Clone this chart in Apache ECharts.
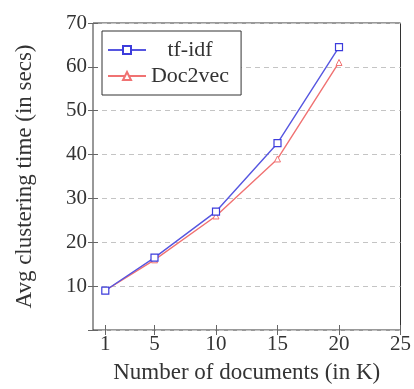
<!DOCTYPE html>
<html>
<head>
<meta charset="utf-8">
<script src="https://cdn.jsdelivr.net/npm/echarts@6/dist/echarts.min.js"></script>
<style>
  html, body { margin: 0; padding: 0; background: #fff; }
  #chart { width: 414px; height: 389px; }
</style>
</head>
<body>
<div id="chart"></div>
<script>
// number of documents (in K)
var docCounts = [1, 5, 10, 15, 20]
var xTicks = [1, 5, 10, 15, 20, 25]
// avg clustering time (secs)
var tfidfTimes = [9, 16.5, 27, 42.6, 64.5]
var doc2vecTimes = [9, 16, 26, 39, 61]

var font = 'Liberation Serif'

function pairs(xs, ys) {
  return xs.map(function (x, i) {
    return [x, ys[i]]
  })
}

var myChart = echarts.init(document.getElementById('chart'))
myChart.setOption({
  animation: false,
  textStyle: { fontFamily: font },
  grid: {
    left: 93,
    top: 23,
    width: 309,
    height: 310,
    show: true,
    borderColor: '#333',
    borderWidth: 1,
  },
  legend: {
    orient: 'vertical',
    left: 102,
    top: 31,
    itemWidth: 38,
    itemHeight: 10,
    itemGap: 4,
    padding: [8, 12, 8, 5],
    borderColor: '#333',
    borderWidth: 1,
    backgroundColor: '#fff',
    formatter: function (name) {
      return '{t|' + name + '}'
    },
    textStyle: {
      fontFamily: font,
      fontSize: 22,
      color: '#333',
      rich: {
        t: { width: 78, align: 'center', fontFamily: font, fontSize: 22, color: '#333' },
      },
    },
    data: ['tf-idf', 'Doc2vec'],
  },
  xAxis: [
    {
      type: 'value',
      min: 0,
      max: 25,
      name: 'Number of documents (in K)',
      nameLocation: 'middle',
      nameGap: 31,
      nameTextStyle: { fontFamily: font, fontSize: 23, color: '#333' },
      axisLine: { show: false },
      axisTick: { inside: true, length: 5, lineStyle: { color: '#666' }, customValues: xTicks },
      axisLabel: { customValues: xTicks, fontFamily: font, fontSize: 21, color: '#333', margin: 4 },
      splitLine: { show: false },
    },
    {
      type: 'value',
      position: 'top',
      min: 0,
      max: 25,
      axisLine: { show: false },
      axisTick: { inside: true, length: 5, lineStyle: { color: '#666' }, customValues: xTicks },
      axisLabel: { show: false },
      splitLine: { show: false },
    },
  ],
  yAxis: [
    {
      type: 'value',
      min: 0,
      max: 70,
      interval: 10,
      name: 'Avg clustering time (in secs)',
      nameLocation: 'middle',
      nameGap: 57,
      nameTextStyle: { fontFamily: font, fontSize: 23, color: '#333' },
      axisLine: { show: false },
      axisTick: { inside: true, length: 5, lineStyle: { color: '#666' } },
      axisLabel: {
        fontFamily: font,
        fontSize: 21,
        color: '#333',
        margin: 6,
        formatter: function (v) {
          return v === 0 ? '' : v
        },
      },
      splitLine: { show: true, lineStyle: { color: '#c4c4c4', type: [5, 4], width: 1 } },
    },
    {
      type: 'value',
      position: 'right',
      min: 0,
      max: 70,
      interval: 10,
      axisLine: { show: false },
      axisTick: { inside: true, length: 5, lineStyle: { color: '#666' } },
      axisLabel: { show: false },
      splitLine: { show: false },
    },
  ],
  series: [
    {
      name: 'Doc2vec',
      type: 'line',
      data: pairs(docCounts, doc2vecTimes),
      symbol: 'triangle',
      symbolSize: 6,
      showAllSymbol: true,
      lineStyle: { color: '#f07272', width: 1.4 },
      itemStyle: { color: '#fff', borderColor: '#f07272', borderWidth: 1 },
    },
    {
      name: 'tf-idf',
      type: 'line',
      data: pairs(docCounts, tfidfTimes),
      symbol: 'rect',
      symbolSize: 7,
      showAllSymbol: true,
      lineStyle: { color: '#5656e0', width: 1.4 },
      itemStyle: { color: '#fff', borderColor: '#3c3cdc', borderWidth: 1.2 },
    },
  ],
})
</script>
</body>
</html>
